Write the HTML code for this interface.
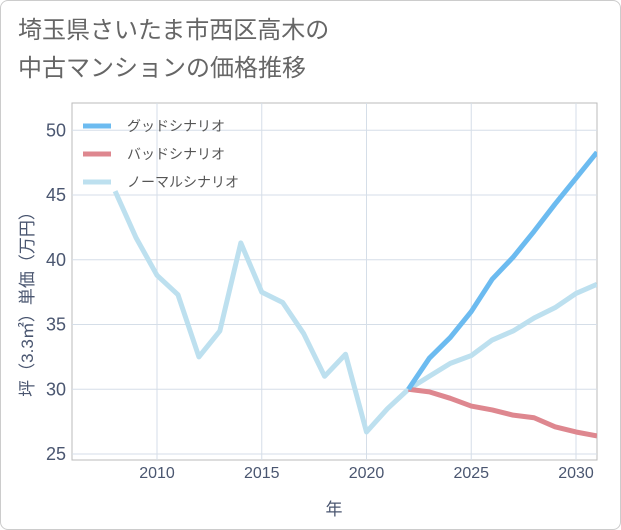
<!DOCTYPE html>
<html><head><meta charset="utf-8"><style>
body{margin:0;background:#fff;font-family:"Liberation Sans","Noto Sans CJK JP",sans-serif}
.frame{position:absolute;left:0;top:0;width:619px;height:528px;border:1px solid #ccc;border-radius:8px}
.title{position:absolute;left:18px;top:12px;font-size:24px;color:#666;line-height:38px}
</style></head><body>
<div class="frame"></div>
<div class="title">埼玉県さいたま市西区高木の<br>中古マンションの価格推移</div>
<svg id="c" width="621" height="530" style="position:absolute;left:0;top:0"></svg>
<script>
const normalYears=[2008,2009,2010,2011,2012,2013,2014,2015,2016,2017,2018,2019,2020,2021,2022,2023,2024,2025,2026,2027,2028,2029,2030,2031];
const normalVals=[45.3,41.7,38.8,37.3,32.5,34.5,41.3,37.5,36.7,34.3,31.0,32.7,26.7,28.5,30.0,31.0,32.0,32.6,33.8,34.5,35.5,36.3,37.4,38.1];
const scenYears=[2022,2023,2024,2025,2026,2027,2028,2029,2030,2031];
const goodVals=[30.0,32.4,34.0,36.0,38.5,40.2,42.2,44.3,46.3,48.3];
const badVals=[30.0,29.8,29.3,28.7,28.4,28.0,27.8,27.1,26.7,26.4];
const xTicks=[2010,2015,2020,2025,2030];
const yTicks=[25,30,35,40,45,50];
const L=72,R=597,T=103,B=460;
const x=v=>157+(v-2010)*20.95;
const y=v=>454-(v-25)*12.95;
const s=document.getElementById('c');const NS='http://www.w3.org/2000/svg';
function el(t,a,p){const e=document.createElementNS(NS,t);for(const k in a)e.setAttribute(k,a[k]);(p||s).appendChild(e);return e;}
let r=el('rect',{x:L,y:T,width:R-L,height:B-T,fill:'#fff',stroke:'#bbb'});

xTicks.forEach(v=>{let g=el('line',{x1:x(v),x2:x(v),y1:T,y2:B,stroke:'#d5dee8'});

let t=el('text',{x:x(v),y:B+18,'text-anchor':'middle','font-size':16,fill:'#4a5670'});t.textContent=v;
});
yTicks.forEach(v=>{let g=el('line',{x1:L,x2:R,y1:y(v),y2:y(v),stroke:'#d5dee8'});

let t=el('text',{x:L-6,y:y(v)+6,'text-anchor':'end','font-size':18,fill:'#4a5670'});t.textContent=v;
});
let xt=el('text',{x:334,y:515,'text-anchor':'middle','font-size':17,fill:'#4a5670'});xt.textContent='年';

let yt=el('text',{x:0,y:0,'text-anchor':'middle','font-size':17,fill:'#4a5670',transform:'translate(33,300) rotate(-90)'});yt.textContent='坪（3.3㎡）単価（万円）';

const cp=el('clipPath',{id:'cp'});el('rect',{x:L,y:T,width:R-L,height:B-T},cp);
function line(xs,vs,col,name){let p=el('path',{d:xs.map((v,i)=>(i?'L':'M')+x(v)+','+y(vs[i])).join(''),fill:'none',stroke:col,'stroke-width':5,'stroke-linejoin':'round','clip-path':'url(#cp)'});
}
line(normalYears,normalVals,'#bde0ef','normal-scenario-line');
line(scenYears,badVals,'#de878f','bad-scenario-line');
line(scenYears,goodVals,'#6cbbf0','good-scenario-line');
[['グッドシナリオ','#6cbbf0'],['バッドシナリオ','#de878f'],['ノーマルシナリオ','#bde0ef']].forEach((d,i)=>{
const g=el('g',{});
el('line',{x1:83,x2:111,y1:126+i*28,y2:126+i*28,stroke:d[1],'stroke-width':5},g);
const t=el('text',{x:127,y:131+i*28,'font-size':14,fill:'#555'},g);t.textContent=d[0];});
</script>
</body></html>
